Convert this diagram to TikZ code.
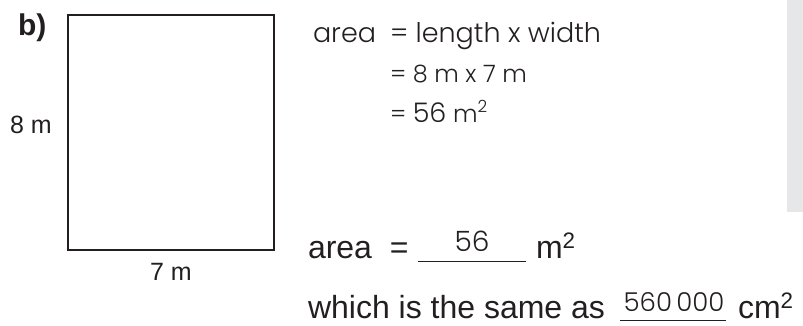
\documentclass[tikz,border=0pt]{standalone}
\usepackage{fontspec}
\setmainfont{Liberation Sans}
\newfontfamily\hand{Poppins Light}
\definecolor{panelgray}{HTML}{E6E7E9}
\definecolor{ink}{HTML}{231F20}
\begin{document}
\begin{tikzpicture}[x=1pt,y=-1pt,
  every node/.style={inner sep=0pt, outer sep=0pt, text=ink},
  lab/.style={font=\fontsize{25}{25}\selectfont},
  big/.style={font=\fontsize{32}{32}\selectfont},
  hw/.style={font=\hand\fontsize{27}{27}\selectfont},
  hwnum/.style={font=\hand\fontsize{24}{24}\selectfont},
  hwans/.style={font=\hand\fontsize{28}{28}\selectfont},
  hwans2/.style={font=\hand\fontsize{26}{26}\selectfont},
  blank/.style={draw=ink, line width=1pt}]
\useasboundingbox (0,0) rectangle (803,325);
\fill[panelgray] (787,0) rectangle (803,212);
% part label
\node[anchor=base west, font=\bfseries\fontsize{30}{30}\selectfont] (part) at (18,35) {b)};
% rectangle
\draw[ink, line width=1.5pt] (68,15) rectangle (274,250);
\node[lab, anchor=base west] (h) at (10,133) {8 m};
\node[lab, anchor=base] (w) at (171,280) {7 m};
% working
\node[hw, anchor=base west] (a1) at (313,42) {area};
\node[hw, anchor=base west] (e1) at (390,42) {= length x width};
\node[hwnum, anchor=base west] (e2) at (390,82) {= 8 m x 7 m};
\node[hwnum, anchor=base west] (e3) at (390,122) {= {\fontsize{27}{27}\selectfont 56} m\textsuperscript{2}};
% answer lines
\node[big, anchor=base west] (ar) at (308,258) {area \ =};
\coordinate (l1a) at (418,261);
\coordinate (l1b) at (526,261);
\draw[blank] (l1a) -- (l1b);
\node[hwans, anchor=base] (v1) at (472,251) {56};
\node[big, anchor=base west] (u1) at (536,258) {m\textsuperscript{2}};
\node[big, anchor=base west] (ws) at (308,318) {which is the same as};
\coordinate (l2a) at (620,320);
\coordinate (l2b) at (726,320);
\draw[blank] (l2a) -- (l2b);
\node[hwans2, anchor=base] (v2) at (674,311) {560\,000};
\node[big, anchor=base west] (u2) at (738,318) {cm\textsuperscript{2}};
\end{tikzpicture}
\end{document}
